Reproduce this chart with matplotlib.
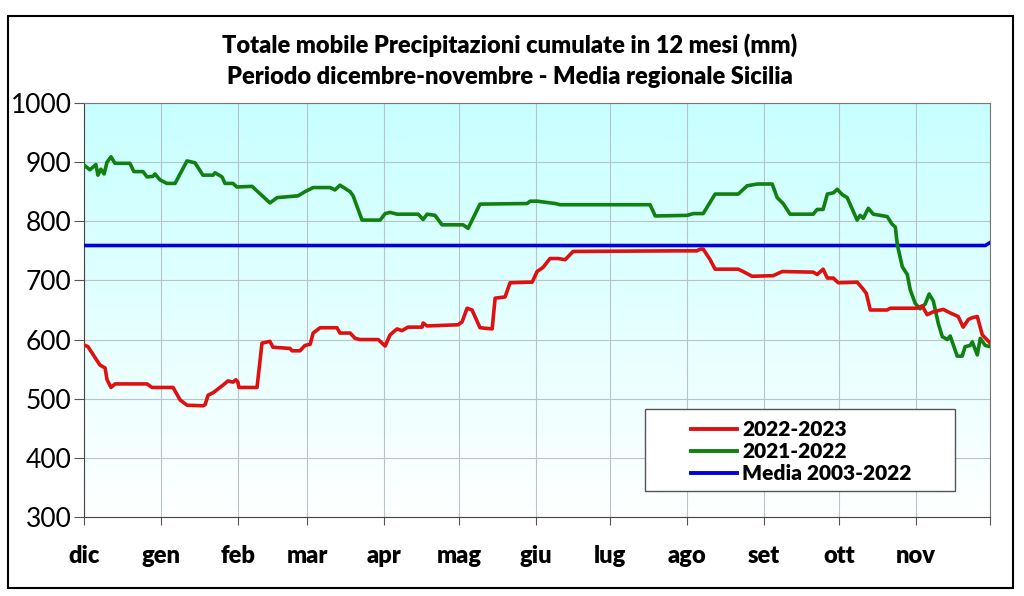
import matplotlib.pyplot as plt
import numpy as np
from matplotlib.patches import Rectangle
from matplotlib.lines import Line2D

plt.rcParams['font.family'] = ['Lato', 'DejaVu Sans']

# days counted from 1 december
month_labels = ["dic", "gen", "feb", "mar", "apr", "mag", "giu", "lug", "ago", "set", "ott", "nov"]
month_starts = [0, 31, 62, 90, 121, 151, 182, 212, 243, 274, 304, 335]

red_days = [0, 1.6, 6.4, 8.5, 9.3, 10.9, 12.5, 25.4, 27.4, 35.9, 38.7, 41.5, 47.9, 48.8, 50, 52,
            56, 58, 60, 61.2, 62, 62.4, 69.7, 71.7, 74.9, 76.1, 83, 83.8, 87, 89, 91.1, 92.3,
            95.1, 101.9, 103.1, 107.2, 109.2, 111.2, 118.5, 121.3, 123.3, 126.1, 128.1, 130.5,
            136.2, 136.6, 138.2, 150.7, 152.3, 154.3, 156.3, 159.5, 164.4, 165.6, 169.6, 171.6,
            178.5, 180.5, 182.5, 184.9, 187.7, 191, 193.8, 197, 238.9, 246.9, 248.2, 249.4,
            252.2, 254.2, 263.5, 265.5, 269.1, 277.6, 281.2, 293.7, 295.3, 297.7, 299.4, 301.8,
            303.8, 311.4, 313.5, 315.1, 316.7, 323.5, 324.7, 335.6, 337.6, 339.6, 342.1, 346.1,
            348.9, 352.1, 354.1, 356.2, 357.8, 359.8, 361.8, 365]
red_vals = [591, 588, 557, 552, 532, 519, 525, 525, 519, 519, 498, 489, 488, 490, 506, 510,
            523, 530, 528, 532, 528, 519, 519, 594, 597, 587, 585, 581, 581, 590, 592, 611,
            620, 620, 611, 611, 602, 600, 600, 589, 608, 618, 615, 621,
            621, 628, 623, 625, 630, 653, 650, 620, 618, 670, 672, 696,
            697, 697, 715, 722, 737, 737, 735, 749, 750, 750, 753, 753,
            735, 719, 719, 715, 707, 708, 715, 714, 710, 719, 704, 704,
            696, 697, 687, 678, 650, 650, 653, 653, 657, 642, 647, 651,
            645, 639, 621, 634, 637, 639, 608, 594]

green_days = [0, 2.4, 4.8, 5.6, 6.8, 8.1, 9.3, 10.9, 12.5, 18.5, 20.1, 23.8, 25.4, 27.8, 28.6,
              30.6, 33.4, 36.7, 38.7, 41.5, 44.7, 47.9, 52, 52.8, 55.6, 56.8, 60, 61.6, 67.7,
              72.1, 74.9, 77.8, 86.2, 89, 92.3, 99.1, 101.1, 103.1, 107.2, 108.4, 112, 119.3,
              121.3, 123.3, 126.1, 134.6, 136.6, 138.2, 141.4, 144.2, 152.7, 154.7, 159.5,
              178.5, 179.7, 182.5, 189.8, 191.8, 228, 230.1, 243, 245.4, 249.4, 254.2, 263.5,
              267.1, 271.2, 277.2, 279.2, 281.6, 284.4, 293.7, 295.3, 297.7, 299.4, 301.8,
              303.4, 305.4, 307.4, 309.4, 311.4, 312.6, 313.9, 315.9, 317.9, 323.5, 325.5,
              326.8, 327.6, 329.6, 331.6, 332.8, 334.8, 336.8, 338.8, 340.4, 342.1, 344.1,
              345.7, 347.7, 348.9, 351.7, 353.7, 354.9, 356.9, 357.8, 359.8, 361, 363, 365]
green_vals = [895, 887, 896, 878, 888, 880, 900, 909, 898, 898, 884, 884, 875, 876, 880,
              870, 864, 864, 880, 902, 899, 878, 878, 882, 875, 864, 864, 858, 859,
              842, 831, 840, 843, 850, 857, 857, 853, 861, 850, 843, 802, 802,
              813, 815, 812, 812, 803, 812, 810, 794, 794, 788, 829,
              830, 834, 834, 830, 828, 828, 809, 810, 813, 813, 846, 846,
              860, 863, 863, 840, 830, 812, 812, 820, 820, 846, 848,
              854, 845, 840, 821, 802, 810, 805, 822, 812, 808, 795,
              790, 760, 723, 710, 684, 661, 652, 660, 677, 665, 627,
              605, 600, 606, 572, 572, 588, 590, 596, 574, 602, 590, 588]

media_days = [0, 363, 365]
media_vals = [759, 759, 764]

fig = plt.figure(figsize=(10.24, 5.96), dpi=100)
fig.patches.append(Rectangle((0.008, 0.013), 0.981, 0.96, transform=fig.transFigure,
                             fill=False, edgecolor="black", linewidth=1.5))

ax = fig.add_axes([0.082, 0.1326, 0.885, 0.6946])

# gradient background: white at bottom, light cyan at top
grad = np.linspace(0, 1, 256).reshape(-1, 1)
top = np.array([0.78, 1.0, 1.0])
bot = np.array([1.0, 1.0, 1.0])
img = bot + (top - bot) * grad[..., None]
ax.imshow(img, extent=[0, 365, 300, 1000], origin="lower", aspect="auto", zorder=0)

ax.plot(media_days, media_vals, color="#0000e0", lw=2.6, zorder=3)
ax.plot(green_days, green_vals, color="#108010", lw=2.6, zorder=4)
ax.plot(red_days, red_vals, color="#e01010", lw=2.6, zorder=5)

ax.set_xlim(0, 365)
ax.set_ylim(300, 1000)
ax.set_yticks(range(300, 1001, 100))
ax.set_xticks(month_starts + [365])
ax.set_xticklabels(month_labels + [""], fontsize=17, fontweight="heavy")
ax.grid(True, color="#b8c4c8", lw=0.8, zorder=1)
ax.set_axisbelow(True)
ax.tick_params(axis="x", length=6, pad=14, color="#555555")
ax.tick_params(axis="y", length=7, labelsize=19, pad=2, color="#555555")
for s in ax.spines.values():
    s.set_color("#777777")
ax.spines["bottom"].set_color("#444444")
ax.spines["left"].set_color("#444444")

fig.text(0.498, 0.925, "Totale mobile Precipitazioni cumulate in 12 mesi (mm)",
         ha="center", va="center", fontsize=17, fontweight="heavy")
fig.text(0.498, 0.871, "Periodo dicembre-novembre - Media regionale Sicilia",
         ha="center", va="center", fontsize=17, fontweight="heavy")

# legend box drawn separately, entries sit right of centre like the original
ax.add_patch(Rectangle((0.619, 0.062), 0.342, 0.2, transform=ax.transAxes,
                       facecolor="white", edgecolor="#555555", lw=1.0, zorder=6))
handles = [Line2D([], [], color="#e01010", lw=2.8),
           Line2D([], [], color="#108010", lw=2.8),
           Line2D([], [], color="#0000e0", lw=2.8)]
leg = ax.legend(handles, ["2022-2023", "2021-2022", "Media 2003-2022"],
                loc="upper left", bbox_to_anchor=(0.67, 0.234), borderaxespad=0,
                prop={"weight": "heavy", "size": 15}, frameon=False,
                handlelength=2.2, handletextpad=0.25, labelspacing=0.15, borderpad=0)
leg.set_zorder(7)

fig.savefig("out.png", dpi=100)
